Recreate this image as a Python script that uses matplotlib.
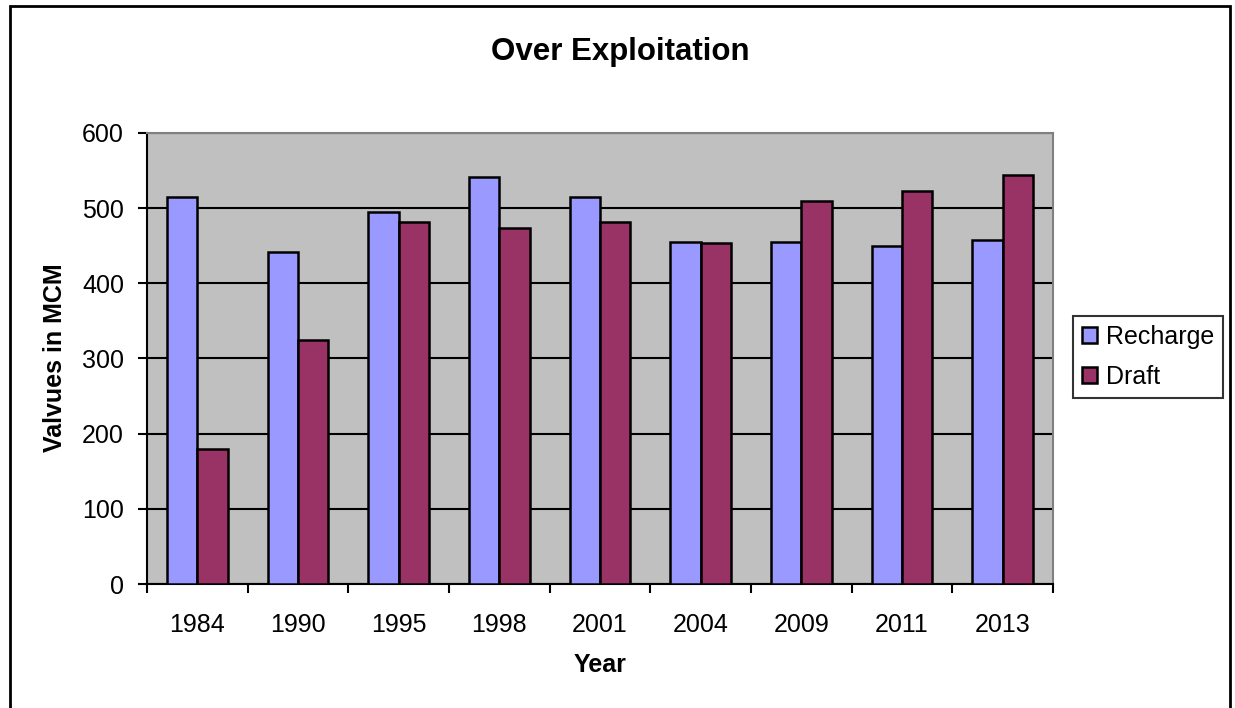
import matplotlib.pyplot as plt
import numpy as np

plt.rcParams['font.family'] = ['Liberation Sans', 'DejaVu Sans']

years = ['1984', '1990', '1995', '1998', '2001', '2004', '2009', '2011', '2013']
recharge = [515, 442, 495, 541, 515, 455, 455, 450, 458]
draft = [180, 324, 481, 474, 481, 453, 510, 523, 544]

fig = plt.figure(figsize=(12.35, 7.08), dpi=100)
# outer chart border (bottom edge runs off the image)
fig.patches.append(plt.Rectangle((10 / 1235, -10 / 708), 1220 / 1235, 712 / 708,
                                 transform=fig.transFigure, fill=False,
                                 edgecolor='black', linewidth=2))

ax = fig.add_axes([147 / 1235, 1 - 584 / 708, 906 / 1235, 451 / 708])
ax.set_facecolor('#C0C0C0')

x = np.arange(len(years))
w = 0.3
ax.bar(x - w / 2, recharge, w, color='#9999FF', edgecolor='black', linewidth=1.8,
       label='Recharge', zorder=3)
ax.bar(x + w / 2, draft, w, color='#993366', edgecolor='black', linewidth=1.8,
       label='Draft', zorder=3)

ax.set_xlim(-0.5, len(years) - 0.5)
ax.set_ylim(0, 600)
ax.set_yticks(range(0, 601, 100))
ax.yaxis.grid(True, color='black', linewidth=1.5, zorder=1)
ax.set_axisbelow(True)

ax.set_xticks(x)
ax.set_xticklabels(years, fontsize=18)
ax.set_xticks(np.arange(-0.5, len(years)), minor=True)
ax.tick_params(axis='x', which='major', length=0, pad=21)
ax.tick_params(axis='x', which='minor', length=6.5, width=1.5, direction='out')
ax.tick_params(axis='y', labelsize=18, length=6.5, width=1.5, direction='out', pad=10)

for s in ['top', 'right']:
    ax.spines[s].set_color('#808080')
    ax.spines[s].set_linewidth(1.5)
for s in ['left', 'bottom']:
    ax.spines[s].set_color('black')
    ax.spines[s].set_linewidth(1.5)

fig.text(600 / 1235, 1 - 665 / 708, 'Year', ha='center', va='center',
         fontsize=18, fontweight='bold')
fig.text(55 / 1235, 1 - 358 / 708, 'Valvues in MCM', ha='center', va='center',
         rotation=90, fontsize=18, fontweight='bold')
fig.text(620 / 1235, 1 - 52 / 708, 'Over Exploitation', ha='center', va='center',
         fontsize=22.5, fontweight='bold')

leg = fig.legend(loc='center left', bbox_to_anchor=(1073 / 1235, 1 - 357 / 708),
                 fontsize=18, frameon=True, fancybox=False, edgecolor='black',
                 handlelength=0.6, handleheight=0.6, handletextpad=0.35,
                 borderpad=0.35, labelspacing=0.65, borderaxespad=0)
leg.get_frame().set_linewidth(1.5)

fig.savefig('out.png', dpi=100)
